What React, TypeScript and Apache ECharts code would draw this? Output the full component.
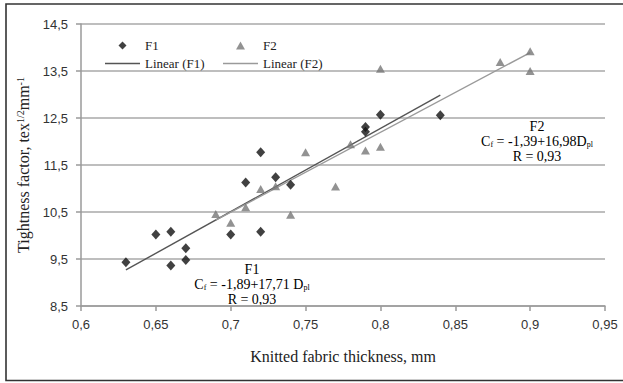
import React, { useEffect, useRef } from "react";
import * as echarts from "echarts";

// ---- data ----
const f1X = [0.63, 0.65, 0.66, 0.66, 0.67, 0.67, 0.7, 0.71, 0.72, 0.72, 0.73, 0.74, 0.79, 0.79, 0.8, 0.84];
const f1Y = [9.43, 10.02, 10.08, 9.36, 9.73, 9.48, 10.02, 11.13, 11.77, 10.08, 11.24, 11.08, 12.31, 12.21, 12.57, 12.56];
const f2X = [0.69, 0.7, 0.71, 0.72, 0.73, 0.74, 0.75, 0.77, 0.78, 0.79, 0.8, 0.8, 0.88, 0.9, 0.9];
const f2Y = [10.46, 10.27, 10.6, 10.99, 11.05, 10.44, 11.77, 11.04, 11.94, 11.81, 11.89, 13.55, 13.69, 13.92, 13.5];
// regression: Cf = a + b * D
const f1Fit = [-1.89, 17.71];
const f2Fit = [-1.39, 16.98];
const xTicks = { min: 0.6, max: 0.95, step: 0.05 };
const yTicks = { min: 8.5, max: 14.5, step: 1 };

const serif = "'Liberation Serif', 'DejaVu Serif', serif";
const sans = "'Liberation Sans', Arial, sans-serif";

const diamondIcon = "path://M5,0 L10,5 L5,10 L0,5 Z";
const triangleIcon = "path://M5,0 L10,9 L0,9 Z";
const lineIcon = "path://M0,0 H35 V1.3 H0 Z";

const fitLine = (xs: number[], fit: number[]) => {
  const lo = Math.min(...xs);
  const hi = Math.max(...xs);
  return [
    [lo, fit[0] + fit[1] * lo],
    [hi, fit[0] + fit[1] * hi],
  ];
};

const fmt = (v: number) => String(Number(v.toFixed(2))).replace(".", ",");

export default function App() {
  const ref = useRef<HTMLDivElement>(null);
  useEffect(() => {
    if (!ref.current) return;
    const chart = echarts.init(ref.current, undefined, { renderer: "svg" });
    const rich = {
      n: { fontFamily: serif, fontSize: 14, color: "#222", lineHeight: 15 },
      sub: { fontFamily: serif, fontSize: 8, color: "#222", verticalAlign: "bottom", padding: [6, 0, 0, 0] },
    };
    const legendText = { fontFamily: serif, fontSize: 13, color: "#222" };
    chart.setOption({
      animation: false,
      backgroundColor: "#fff",
      grid: { left: 81, right: 18, top: 24, bottom: 77 },
      legend: [
        {
          data: [
            { name: "F1", icon: diamondIcon },
            { name: "Linear (F1)", icon: lineIcon },
          ],
          orient: "vertical",
          left: 100,
          top: 34,
          itemWidth: 35,
          itemHeight: 8,
          itemGap: 5,
          textStyle: legendText,
        },
        {
          data: [
            { name: "F2", icon: triangleIcon },
            { name: "Linear (F2)", icon: lineIcon },
          ],
          orient: "vertical",
          left: 218,
          top: 34,
          itemWidth: 35,
          itemHeight: 8,
          itemGap: 5,
          textStyle: legendText,
        },
      ],
      xAxis: {
        type: "value",
        min: xTicks.min,
        max: xTicks.max,
        interval: xTicks.step,
        name: "Knitted fabric thickness, mm",
        nameLocation: "middle",
        nameGap: 42,
        nameTextStyle: { fontFamily: serif, fontSize: 16, color: "#222" },
        axisLine: { show: true, lineStyle: { color: "#9a9a9a", width: 1.5 } },
        axisTick: { show: true, length: 5, lineStyle: { color: "#9a9a9a", width: 1.5 } },
        axisLabel: { formatter: fmt, margin: 12, fontFamily: sans, fontSize: 13, color: "#333" },
        splitLine: { show: false },
      },
      yAxis: {
        type: "value",
        min: yTicks.min,
        max: yTicks.max,
        interval: yTicks.step,
        name: "{n|Tightness factor, tex}{sup|1/2}{n|mm}{sup|-1}",
        nameLocation: "middle",
        nameGap: 50,
        nameTextStyle: {
          rich: {
            n: { fontFamily: serif, fontSize: 16, color: "#222" },
            sup: { fontFamily: serif, fontSize: 10, color: "#222", verticalAlign: "top", padding: [0, 0, 6, 0] },
          },
        },
        axisLine: { show: true, lineStyle: { color: "#9a9a9a", width: 1.5 } },
        axisTick: { show: true, length: 5, lineStyle: { color: "#9a9a9a", width: 1.5 } },
        axisLabel: { formatter: fmt, margin: 13, fontFamily: sans, fontSize: 13, color: "#333" },
        splitLine: { show: true, lineStyle: { color: "#a8a8a8", width: 1.6 } },
      },
      series: [
        {
          name: "F1",
          type: "scatter",
          symbol: "diamond",
          symbolSize: [9, 10],
          itemStyle: { color: "#111" },
          data: f1X.map((x, i) => [x, f1Y[i]]),
          z: 5,
        },
        {
          name: "F2",
          type: "scatter",
          symbol: "triangle",
          symbolSize: [9, 8],
          itemStyle: { color: "#777" },
          data: f2X.map((x, i) => [x, f2Y[i]]),
          z: 5,
        },
        {
          name: "Linear (F1)",
          type: "line",
          showSymbol: false,
          symbol: "none",
          lineStyle: { color: "#555", width: 1.4 },
          itemStyle: { color: "#555" },
          data: fitLine(f1X, f1Fit),
          z: 4,
        },
        {
          name: "Linear (F2)",
          type: "line",
          showSymbol: false,
          symbol: "none",
          lineStyle: { color: "#9a9a9a", width: 1.4 },
          itemStyle: { color: "#9a9a9a" },
          data: fitLine(f2X, f2Fit),
          z: 4,
        },
      ],
      graphic: [
        {
          type: "rect",
          shape: { x: 6, y: 4, width: 700, height: 376.5 },
          style: { fill: "none", stroke: "#333", lineWidth: 1.6 },
          silent: true,
        },
        {
          type: "text",
          x: 252,
          y: 284,
          style: {
            text: "{n|F1}\n{n|C}{sub|f}{n| = -1,89+17,71 D}{sub|pl}\n{n|R = 0,93}",
            rich,
            align: "center",
            verticalAlign: "middle",
          },
        },
        {
          type: "text",
          x: 537,
          y: 141,
          style: {
            text: "{n|F2}\n{n|C}{sub|f}{n| = -1,39+16,98D}{sub|pl}\n{n|R = 0,93}",
            rich,
            align: "center",
            verticalAlign: "middle",
          },
        },
      ],
    });
    return () => chart.dispose();
  }, []);
  return (
    <div
      ref={ref}
      style={{ position: "fixed", left: 0, top: 0, width: 623, height: 383, background: "#fff" }}
    />
  );
}
